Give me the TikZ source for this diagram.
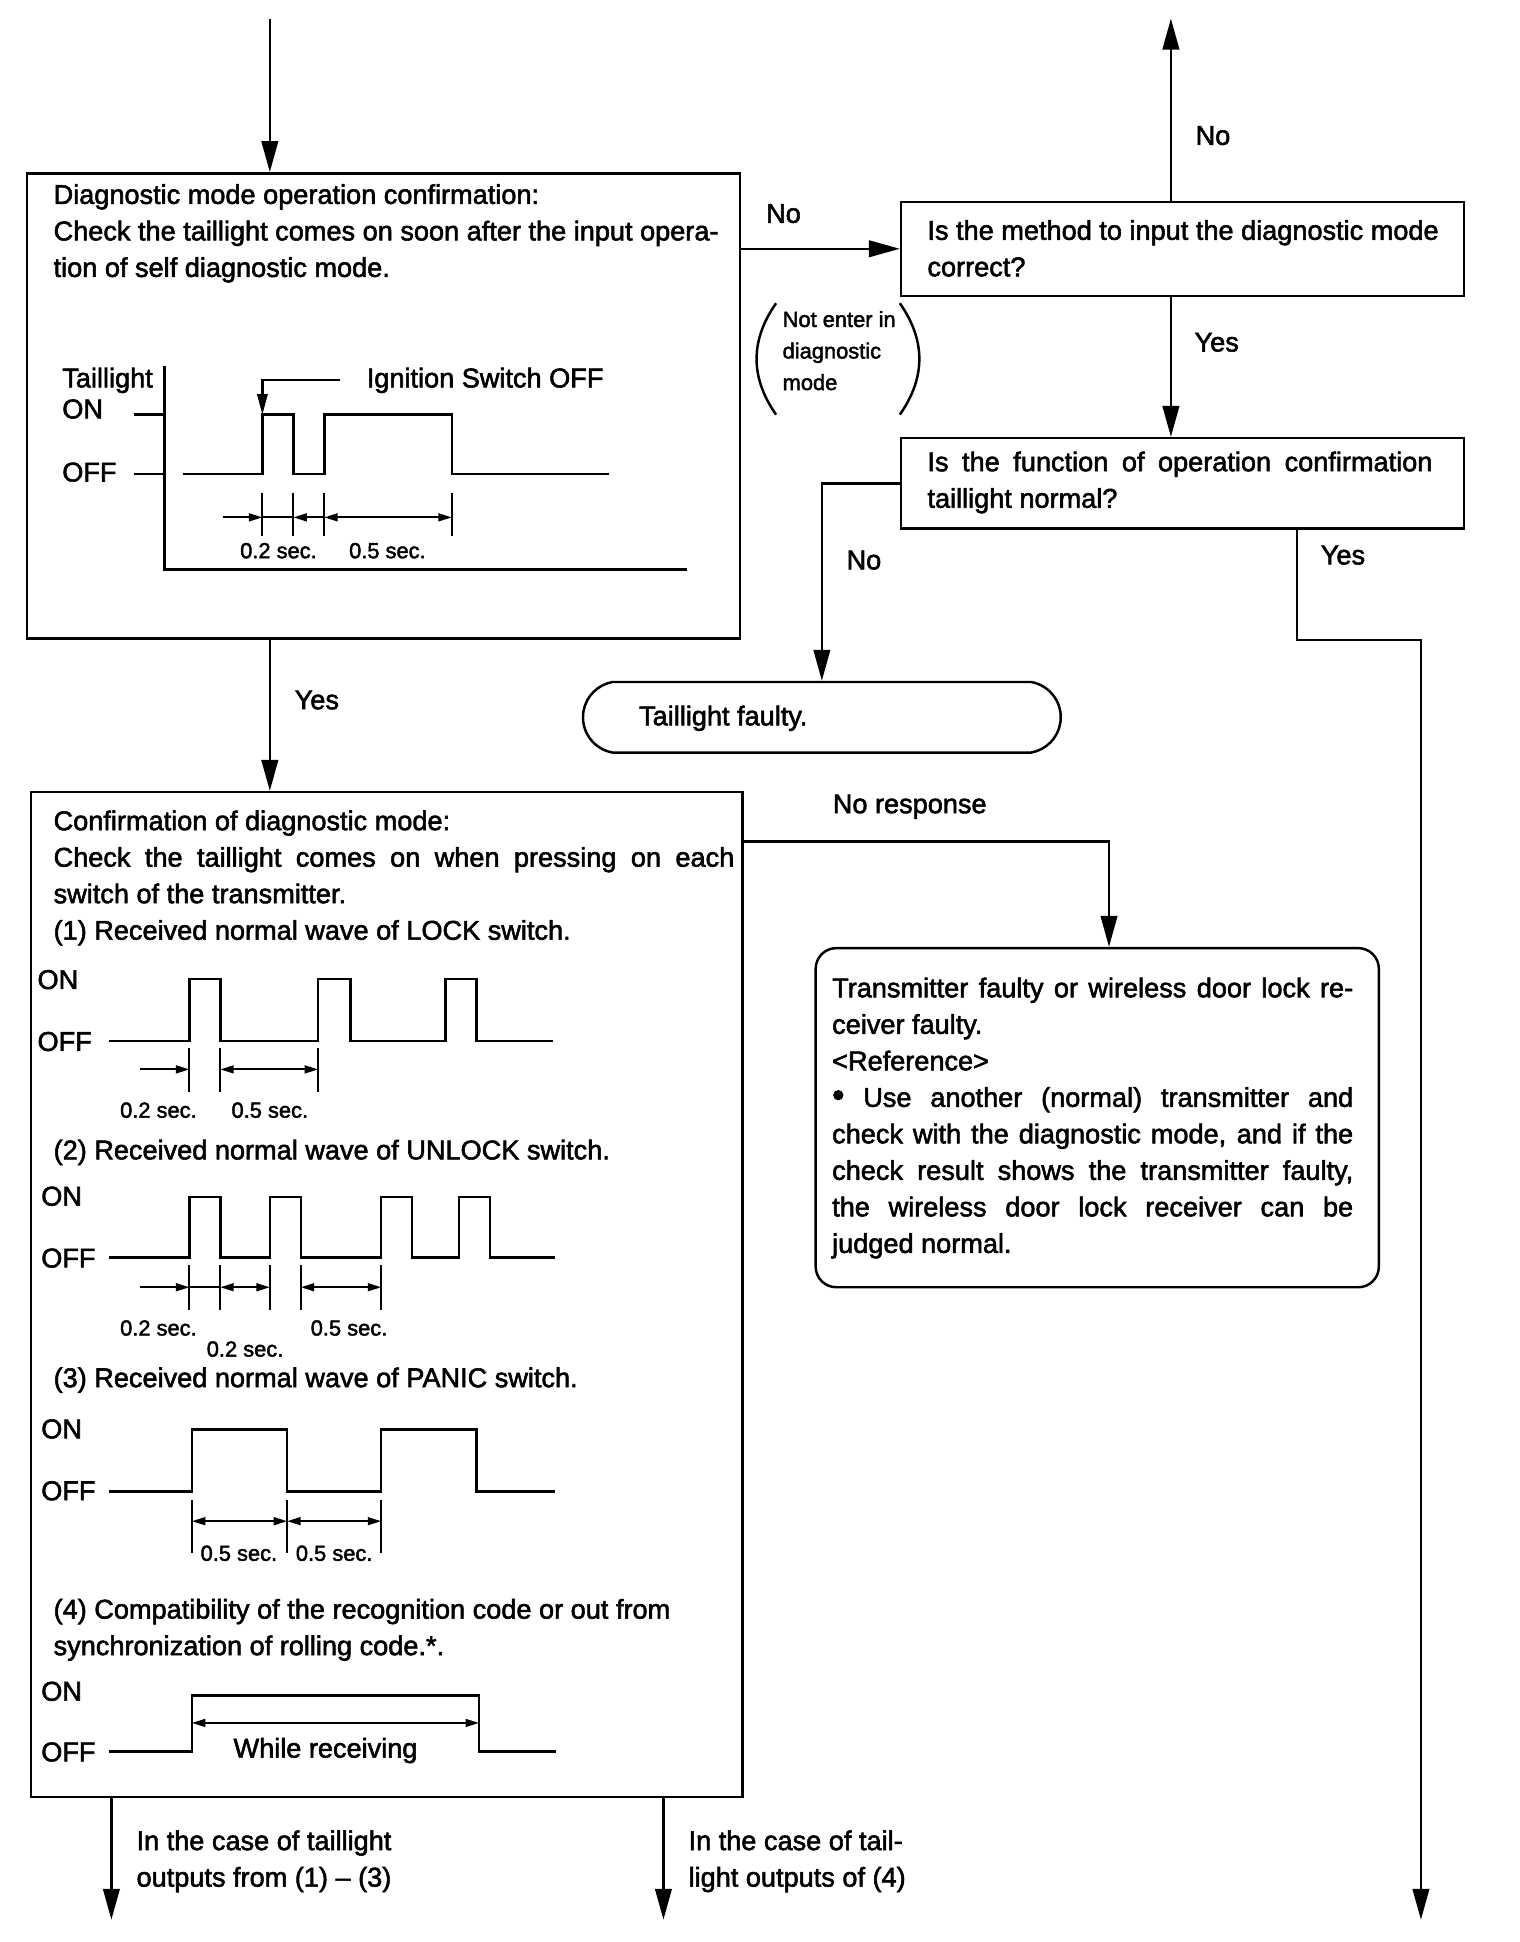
\documentclass[tikz,border=0pt]{standalone}
\usepackage{fontspec}
\setmainfont{Liberation Sans}[FakeBold=2]
\usetikzlibrary{arrows.meta,fit,shapes.misc}
\newcommand\myfont{\fontsize{13.15pt}{17.7pt}\selectfont}
\newcommand\mysmall{\fontsize{10.6pt}{15.3pt}\selectfont}
\newcommand\bigdot{{\fontsize{17pt}{17pt}\selectfont\textbullet}}
\begin{document}
\begin{tikzpicture}[x=0.6pt,y=-0.6pt,
  box/.style={draw, line width=1.2pt, inner sep=0pt},
  flow/.style={line width=1.2pt, -{Triangle[length=15pt,width=8pt]}},
  wave/.style={line width=1.2pt, line join=miter},
  dimline/.style={line width=0.9pt},
  dtip/.style={dimline, -{Triangle[length=6.5pt,width=3.8pt]}},
  dboth/.style={dimline, {Triangle[length=6.5pt,width=3.8pt]}-{Triangle[length=6.5pt,width=3.8pt]}},
  txt/.style={inner sep=0pt, font=\myfont, align=left, anchor=north west},
  lbl/.style={inner sep=0pt, font=\myfont, anchor=base},
  sml/.style={inner sep=0pt, font=\mysmall, anchor=base},
]
\useasboundingbox (0,0) rectangle (1228,1569);

% ---------- boxes ----------
\node[box, fit={(22,140) (598,516)}] (b1) {};
\node[box, fit={(728,163) (1183,239)}] (b2) {};
\node[box, fit={(728,354) (1183,427)}] (b3) {};
\node[box, fit={(25,640) (600,1452)}] (b4) {};
\node[box, rounded corners=10pt, fit={(659,766) (1114,1040)}] (b5) {};
\node[box, rounded rectangle, rounded rectangle arc length=160,
      minimum width=231.6pt, minimum height=34.2pt] (tf) at (664,579.5) {};

% ---------- coordinates for connectors ----------
\coordinate (top) at (218,15);
\coordinate (up2) at (946,15);
\coordinate (yesx) at (1048,517);
\coordinate (yesr) at (1148,517);
\coordinate (out3) at (1148,1551);
\coordinate (nr) at (896,680);
\coordinate (out1) at (90,1551);
\coordinate (out2) at (536,1551);

% ---------- connectors ----------
\draw[flow] (top) -- (top |- b1.north);
\draw[flow] (b1.east |- b2.west) -- (b2.west);
\draw[flow] (up2 |- b2.north) -- (up2);
\draw[flow] (up2 |- b2.south) -- (up2 |- b3.north);
\draw[flow] (b3.west) -| (tf.north);
\draw[flow] (yesx |- b3.south) -- (yesx) -- (yesr) -- (out3);
\draw[flow] (top |- b1.south) -- (top |- b4.north);
\draw[flow] (b4.east |- nr) -- (nr) -- (nr |- b5.north);
\draw[flow] (out1 |- b4.south) -- (out1);
\draw[flow] (out2 |- b4.south) -- (out2);

% ---------- connector labels ----------
\node[lbl] (lno1) at (633,180) {No};
\node[lbl] (lno2) at (980,117) {No};
\node[lbl] (lyes1) at (983,284) {Yes};
\node[lbl] (lno3) at (698,460) {No};
\node[lbl] (lyes2) at (1085,456) {Yes};
\node[lbl] (lyes3) at (256,573) {Yes};
\node[lbl] (lnr) at (735,657) {No response};
\node[txt] (lout1) at (110,1478.5) {In the case of taillight\\outputs from (1) -- (3)};
\node[txt] (lout2) at (556,1478.5) {In the case of tail-\\light outputs of (4)};

% parenthetical note
\node[inner sep=0pt, font=\mysmall, align=left, anchor=north west] (note) at (632,251)
  {Not enter in\\diagnostic\\mode};
\draw[line width=1.2pt] (627,245) .. controls (606,275) and (606,305) .. (627,335);
\draw[line width=1.2pt] (727,245) .. controls (748,275) and (748,305) .. (727,335);

% ---------- box texts ----------
\node[txt] (t1) at (43,148.5) {Diagnostic mode operation confirmation:\\
  Check the taillight comes on soon after the input opera-\\
  tion of self diagnostic mode.};
\node[txt] (t2) at (749,177.5) {Is the method to input the diagnostic mode\\correct?};
\node[txt] (t3) at (749,364.5) {\makebox[244.8pt][s]{Is the function of operation confirmation}\\taillight normal?};
\node[inner sep=0pt, font=\myfont, anchor=base west] (ttf) at (516,586) {Taillight faulty.};
\node[txt] (t4) at (43,654.5) {Confirmation of diagnostic mode:\\
  \makebox[330pt][s]{Check the taillight comes on when pressing on each}\\
  switch of the transmitter.\\
  (1) Received normal wave of LOCK switch.};
\node[txt] (t4b) at (43,920.5) {(2) Received normal wave of UNLOCK switch.};
\node[txt] (t4c) at (43,1104.5) {(3) Received normal wave of PANIC switch.};
\node[txt] (t4d) at (43,1291.5) {(4) Compatibility of the recognition code or out from\\
  synchronization of rolling code.*.};
\node[txt] (t5) at (672,789.5) {\makebox[252.6pt][s]{Transmitter faulty or wireless door lock re-}\\
  ceiver faulty.\\
  <Reference>\\
  \makebox[252.6pt][s]{\bigdot{} Use another (normal) transmitter and}\\
  \makebox[252.6pt][s]{check with the diagnostic mode, and if the}\\
  \makebox[252.6pt][s]{check result shows the transmitter faulty,}\\
  \makebox[252.6pt][s]{the wireless door lock receiver can be}\\
  judged normal.};

% ---------- timing chart in box 1 ----------
\node[inner sep=0pt, font=\myfont, anchor=base west] (tl) at (50,313) {Taillight};
\node[inner sep=0pt, font=\myfont, anchor=base west] (ton) at (50,338) {ON};
\node[inner sep=0pt, font=\myfont, anchor=base west] (toff) at (50,389) {OFF};
\draw[wave] (133,296) -- (133,460) -- (555,460);
\draw[wave] (108,335) -- (133,335);
\draw[wave] (108,383) -- (133,383);
\draw[wave] (148,383) -- (212,383) -- (212,335) -- (237,335) -- (237,383) -- (262,383)
  -- (262,335) -- (365,335) -- (365,383) -- (492,383);
\draw[line width=1.2pt, -{Triangle[length=10pt,width=5pt]}] (275,307) -- (212,307) -- (212,335);
\node[inner sep=0pt, font=\myfont, anchor=base west] (ign) at (296,313) {Ignition Switch OFF};
\foreach \x in {212,237,262,365} \draw[dimline] (\x,398) -- (\x,433);
\draw[dtip] (180,418) -- (212,418);
\draw[dimline] (212,418) -- (237,418);
\draw[dtip] (262,418) -- (237,418);
\draw[dboth] (262,418) -- (365,418);
\node[sml] (d1a) at (225,451) {0.2 sec.};
\node[sml] (d1b) at (313,451) {0.5 sec.};

% ---------- wave (1) LOCK ----------
\node[inner sep=0pt, font=\myfont, anchor=base west] (on1) at (30,799) {ON};
\node[inner sep=0pt, font=\myfont, anchor=base west] (off1) at (30,849) {OFF};
\draw[wave] (88,841) -- (153,841) -- (153,791) -- (178,791) -- (178,841) -- (257,841)
  -- (257,791) -- (283,791) -- (283,841) -- (360,841) -- (360,791) -- (385,791)
  -- (385,841) -- (447,841);
\foreach \x in {153,178,257} \draw[dimline] (\x,847) -- (\x,882);
\draw[dtip] (113,864) -- (153,864);
\draw[dboth] (178,864) -- (257,864);
\node[sml] (s1a) at (128,903) {0.2 sec.};
\node[sml] (s1b) at (218,903) {0.5 sec.};

% ---------- wave (2) UNLOCK ----------
\node[inner sep=0pt, font=\myfont, anchor=base west] (on2) at (33,974) {ON};
\node[inner sep=0pt, font=\myfont, anchor=base west] (off2) at (33,1024) {OFF};
\draw[wave] (88,1016) -- (153,1016) -- (153,967) -- (178,967) -- (178,1016) -- (218,1016)
  -- (218,967) -- (243,967) -- (243,1016) -- (308,1016) -- (308,967) -- (333,967)
  -- (333,1016) -- (371,1016) -- (371,967) -- (396,967) -- (396,1016) -- (448,1016);
\foreach \x in {153,178,218,243,308} \draw[dimline] (\x,1022) -- (\x,1058);
\draw[dtip] (113,1040) -- (153,1040);
\draw[dimline] (153,1040) -- (178,1040);
\draw[dboth] (178,1040) -- (218,1040);
\draw[dboth] (243,1040) -- (308,1040);
\node[sml] (s2a) at (128,1079) {0.2 sec.};
\node[sml] (s2b) at (198,1096) {0.2 sec.};
\node[sml] (s2c) at (282,1079) {0.5 sec.};

% ---------- wave (3) PANIC ----------
\node[inner sep=0pt, font=\myfont, anchor=base west] (on3) at (33,1162) {ON};
\node[inner sep=0pt, font=\myfont, anchor=base west] (off3) at (33,1212) {OFF};
\draw[wave] (88,1205) -- (155,1205) -- (155,1155) -- (232,1155) -- (232,1205) -- (308,1205)
  -- (308,1155) -- (385,1155) -- (385,1205) -- (448,1205);
\foreach \x in {155,232,308} \draw[dimline] (\x,1212) -- (\x,1255);
\draw[dboth] (155,1229) -- (232,1229);
\draw[dboth] (232,1229) -- (308,1229);
\node[sml] (s3a) at (193,1261) {0.5 sec.};
\node[sml] (s3b) at (270,1261) {0.5 sec.};

% ---------- wave (4) ----------
\node[inner sep=0pt, font=\myfont, anchor=base west] (on4) at (33,1374) {ON};
\node[inner sep=0pt, font=\myfont, anchor=base west] (off4) at (33,1423) {OFF};
\draw[wave] (88,1415) -- (155,1415) -- (155,1370) -- (387,1370) -- (387,1415) -- (449,1415);
\draw[dboth] (155,1392) -- (387,1392);
\node[lbl] (wr) at (263,1420) {While receiving};
\end{tikzpicture}
\end{document}
